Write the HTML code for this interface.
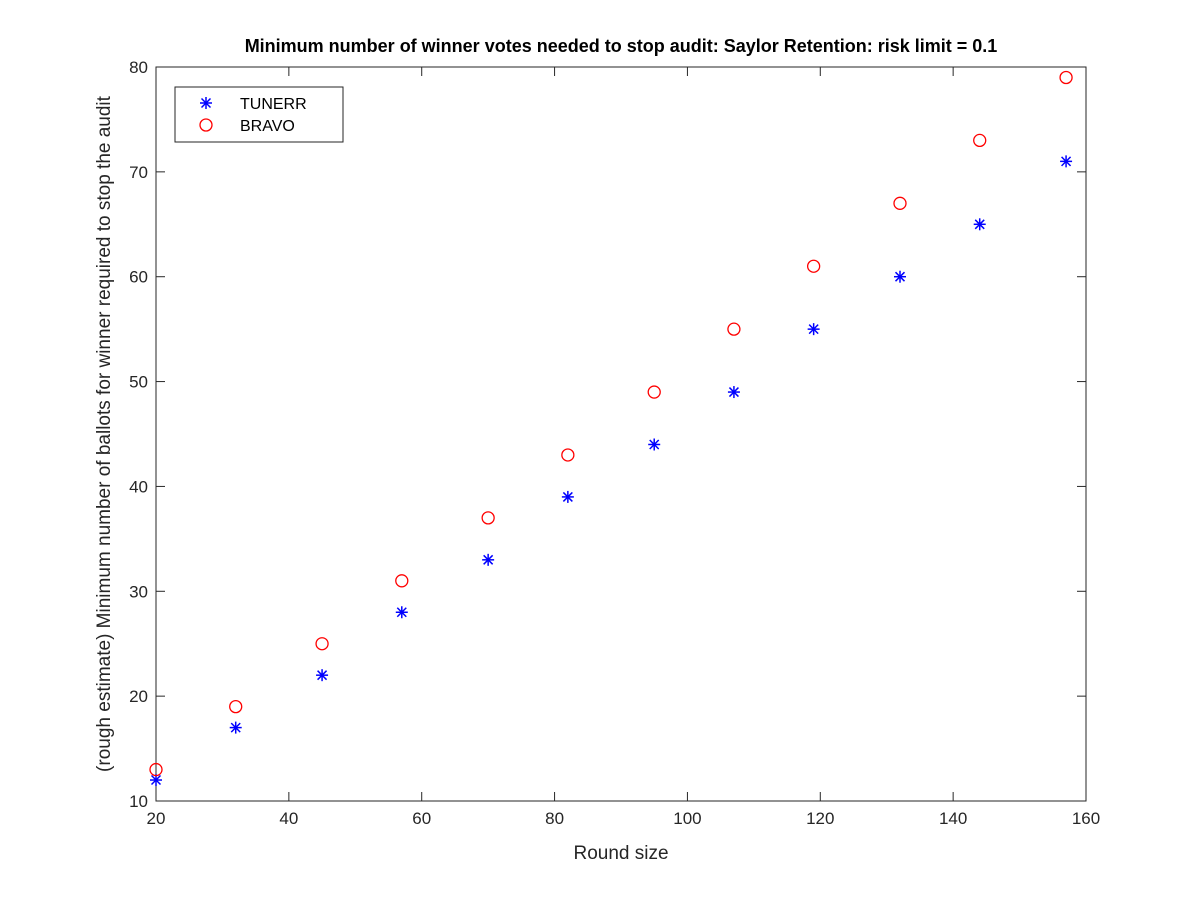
<!DOCTYPE html>
<html><head><meta charset="utf-8"><style>
body{margin:0;background:#fff;}
svg{display:block;font-family:"Liberation Sans",Arial,sans-serif;}
</style></head><body>
<svg id="chart" width="1200" height="900">
<rect width="1200" height="900" fill="#fff"/>
<g id="plot"></g>
</svg>
<script>
const roundSizes=[20,32,45,57,70,82,95,107,119,132,144,157];
const tunerrVotes=[12,17,22,28,33,39,44,49,55,60,65,71];
const bravoVotes=[13,19,25,31,37,43,49,55,61,67,73,79];
const xTicks=[20,40,60,80,100,120,140,160];
const yTicks=[10,20,30,40,50,60,70,80];
const L=156,R=1086,T=67,B=801;
const xMin=20,xMax=160,yMin=10,yMax=80;
const sx=v=>L+(v-xMin)/(xMax-xMin)*(R-L);
const sy=v=>B-(v-yMin)/(yMax-yMin)*(B-T);
const NS="http://www.w3.org/2000/svg";
const g=document.getElementById('plot');
function mk(tag,attrs,parent){const e=document.createElementNS(NS,tag);for(const k in attrs)e.setAttribute(k,attrs[k]);(parent||g).appendChild(e);return e;}
const box=mk('rect',{x:L,y:T,width:R-L,height:B-T,fill:'#fff',stroke:'#262626','stroke-width':1});


xTicks.forEach(v=>{const x=sx(v);
mk('line',{x1:x,x2:x,y1:B,y2:B-9,stroke:'#262626'});mk('line',{x1:x,x2:x,y1:T,y2:T+9,stroke:'#262626'});
const t=mk('text',{x:x,y:B+23,'text-anchor':'middle','font-size':17,fill:'#262626'});t.textContent=v;

});
yTicks.forEach(v=>{const y=sy(v);
mk('line',{x1:L,x2:L+9,y1:y,y2:y,stroke:'#262626'});mk('line',{x1:R,x2:R-9,y1:y,y2:y,stroke:'#262626'});
const t=mk('text',{x:L-8,y:y+6,'text-anchor':'end','font-size':17,fill:'#262626'});t.textContent=v;

});
function star(x,y){const s=mk('g',{stroke:'#0000ff','stroke-width':1.5});const r=6;
mk('line',{x1:x-r,x2:x+r,y1:y,y2:y},s);mk('line',{x1:x,x2:x,y1:y-r,y2:y+r},s);
mk('line',{x1:x-4.5,x2:x+4.5,y1:y-4.5,y2:y+4.5},s);mk('line',{x1:x-4.5,x2:x+4.5,y1:y+4.5,y2:y-4.5},s);return s;}
roundSizes.forEach((v,i)=>{const s=star(sx(v),sy(tunerrVotes[i]));


const c=mk('circle',{cx:sx(v),cy:sy(bravoVotes[i]),r:6,fill:'none',stroke:'#ff0000','stroke-width':1.3});

});
// legend
const lg=mk('g',{});


mk('rect',{x:175,y:87,width:168,height:55,fill:'#fff',stroke:'#262626'},lg);
const ls=star(206,103);lg.appendChild(ls);


let t1=mk('text',{x:240,y:109,'font-size':16,fill:'#000'},lg);t1.textContent='TUNERR';


const lc=mk('circle',{cx:206,cy:125,r:6,fill:'none',stroke:'#ff0000','stroke-width':1.3},lg);


let t2=mk('text',{x:240,y:131,'font-size':16,fill:'#000'},lg);t2.textContent='BRAVO';


// titles
const ti=mk('text',{x:621,y:52,'text-anchor':'middle','font-size':18,'font-weight':'bold',fill:'#000'});
ti.textContent='Minimum number of winner votes needed to stop audit: Saylor Retention: risk limit = 0.1';


const xl=mk('text',{x:621,y:859,'text-anchor':'middle','font-size':19,fill:'#262626'});
xl.textContent='Round size';


const yl=mk('text',{x:0,y:0,'text-anchor':'middle','font-size':19,fill:'#262626',transform:'translate(110,434) rotate(-90)'});
yl.textContent='(rough estimate) Minimum number of ballots for winner required to stop the audit';


</script>
</body></html>
